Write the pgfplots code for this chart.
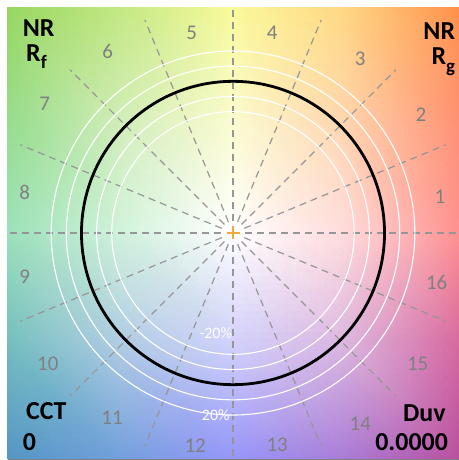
\documentclass[border=0pt]{standalone}
\usepackage{pgfplots}
\pgfplotsset{compat=1.18}
\usepackage{fontspec}
\setmainfont{Carlito}
\definecolor{numgray}{RGB}{128,128,128}
\definecolor{dashgray}{RGB}{150,150,150}
\definecolor{plusorange}{RGB}{240,170,60}
\begin{document}
\begin{tikzpicture}
\begin{axis}[
  scale only axis, width=450bp, height=452bp,
  xmin=-1.485, xmax=1.485, ymin=-1.49, ymax=1.49,
  xtick=\empty, ytick=\empty,
  axis line style={draw=gray, line width=0.8bp},
  clip=true,
]
\addplot[surf, shader=interp, mesh/color input=explicit, mesh/rows=5] table[meta=c] {
x y c
-1.49 -1.49 rgb=0.333,0.588,0.765
-0.74 -1.49 rgb=0.451,0.627,0.863
0 -1.49 rgb=0.588,0.588,0.980
0.74 -1.49 rgb=0.667,0.490,0.843
1.49 -1.49 rgb=0.725,0.314,0.627
-1.49 -0.74 rgb=0.451,0.745,0.745
-0.74 -0.74 rgb=0.690,0.800,0.890
0 -0.74 rgb=0.820,0.820,0.985
0.74 -0.74 rgb=0.860,0.710,0.875
1.49 -0.74 rgb=0.843,0.412,0.627
-1.49 0 rgb=0.608,0.882,0.725
-0.74 0 rgb=0.820,0.950,0.860
0 0 rgb=1,1,1
0.74 0 rgb=1,0.860,0.860
1.49 0 rgb=1,0.569,0.569
-1.49 0.74 rgb=0.588,0.863,0.549
-0.74 0.74 rgb=0.820,0.930,0.720
0 0.74 rgb=0.985,0.985,0.810
0.74 0.74 rgb=1,0.835,0.680
1.49 0.74 rgb=1,0.569,0.451
-1.49 1.49 rgb=0.588,0.843,0.373
-0.74 1.49 rgb=0.765,0.910,0.510
0 1.49 rgb=0.980,0.980,0.600
0.74 1.49 rgb=1,0.843,0.510
1.49 1.49 rgb=1,0.569,0.294
};
% radial dashed bin lines
\pgfplotsinvokeforeach{0,...,15}{
  \draw[dashgray, line width=1.2bp, dash pattern=on 7bp off 5bp]
    (axis cs:{0.08*cos(#1*22.5)},{0.08*sin(#1*22.5)}) --
    (axis cs:{1.52*cos(#1*22.5)},{1.52*sin(#1*22.5)});
}
% white reference rings
\draw[white, line width=1.1bp] (axis cs:0,0) circle [radius=0.8];
\draw[white, line width=1.1bp] (axis cs:0,0) circle [radius=0.9];
\draw[white, line width=1.1bp] (axis cs:0,0) circle [radius=1.1];
\draw[white, line width=1.1bp] (axis cs:0,0) circle [radius=1.2];
% reference circle
\draw[black, line width=2.8bp] (axis cs:0,0) circle [radius=1.0];
% centre
\addplot[only marks, mark=+, mark size=6.5bp, mark options={plusorange, line width=1.6bp}] coordinates {(0,0)};
% percentage labels
\node[white, font=\fontsize{16}{16}\selectfont] at (axis cs:-0.114,-0.662) {-20\%};
\node[white, font=\fontsize{16}{16}\selectfont] at (axis cs:-0.114,-1.200) {20\%};
% hue bin numbers
\begin{scope}[every node/.style={text=numgray, font=\fontsize{21}{21}\selectfont}]
\node at (axis cs:1.366,0.239) {1};
\node at (axis cs:1.241,0.783) {2};
\node at (axis cs:0.840,1.149) {3};
\node at (axis cs:0.259,1.320) {4};
\node at (axis cs:-0.272,1.320) {5};
\node at (axis cs:-0.827,1.199) {6};
\node at (axis cs:-1.243,0.853) {7};
\node at (axis cs:-1.375,0.265) {8};
\node at (axis cs:-1.375,-0.287) {9};
\node at (axis cs:-1.222,-0.864) {10};
\node at (axis cs:-0.798,-1.219) {11};
\node at (axis cs:-0.250,-1.401) {12};
\node at (axis cs:0.292,-1.395) {13};
\node at (axis cs:0.840,-1.257) {14};
\node at (axis cs:1.219,-0.864) {15};
\node at (axis cs:1.344,-0.327) {16};
\end{scope}
% corner texts
\begin{scope}[every node/.style={inner sep=0pt, font=\fontsize{26}{26}\selectfont\bfseries}]
\node[anchor=base west] at (rel axis cs:0.0327,0.934) {NR};
\node[anchor=base west] at (rel axis cs:0.040,0.879) {R\raisebox{-0.28em}{\fontsize{19}{19}\selectfont f}};
\node[anchor=base east] at (rel axis cs:0.994,0.929) {NR};
\node[anchor=base east] at (rel axis cs:0.994,0.872) {R\raisebox{-0.28em}{\fontsize{19}{19}\selectfont g}};
\node[anchor=base west] at (rel axis cs:0.040,0.0863) {CCT};
\node[anchor=base west] at (rel axis cs:0.0327,0.0177) {0};
\node[anchor=base east] at (rel axis cs:0.9727,0.0825) {Duv};
\node[anchor=base east] at (rel axis cs:0.978,0.0199) {0.0000};
\end{scope}
\coordinate (sw) at (rel axis cs:0,0);
\coordinate (ne) at (rel axis cs:1,1);
\end{axis}
\path ([shift={(-8bp,-1bp)}]sw) rectangle ([shift={(0bp,7bp)}]ne);
\end{tikzpicture}
\end{document}
